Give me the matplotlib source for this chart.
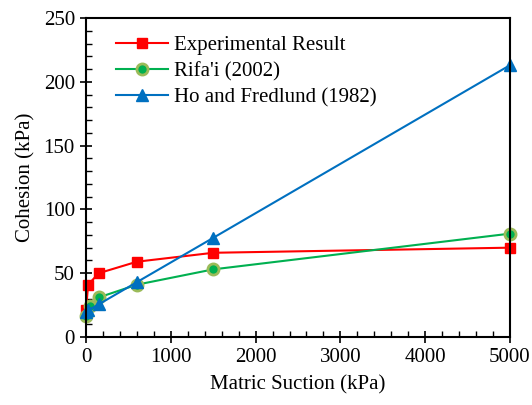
import matplotlib.pyplot as plt
from matplotlib.ticker import MultipleLocator

plt.rcParams['font.family'] = ['Liberation Serif', 'DejaVu Serif']

# data
exp_x = [0, 25, 150, 600, 1500, 5000]
exp_y = [21, 41, 50, 59, 66, 70]
rif_x = [0, 50, 150, 600, 1500, 5000]
rif_y = [16.5, 24, 31, 41, 53, 81]
ho_x = [0, 25, 150, 600, 1500, 5000]
ho_y = [19.8, 20.8, 25.6, 43, 77.7, 213]

fs = 15

fig = plt.figure(figsize=(5.32, 4.05), dpi=100)
ax = fig.add_axes([0.1617, 0.1679, 0.7969, 0.7877])

ax.plot(exp_x, exp_y, color='#FF0000', lw=1.5, marker='s', ms=7,
        mfc='#FF0000', mec='#FF0000', label='Experimental Result', clip_on=False)
ax.plot(rif_x, rif_y, color='#00B050', lw=1.5, marker='o', ms=8,
        mfc='#00B050', mec='#9BBB59', mew=2, label="Rifa'i (2002)", clip_on=False)
ax.plot(ho_x, ho_y, color='#0070C0', lw=1.5, marker='^', ms=8,
        mfc='#0070C0', mec='#0070C0', label='Ho and Fredlund (1982)', clip_on=False)

ax.set_xlim(0, 5000)
ax.set_ylim(0, 250)
ax.xaxis.set_major_locator(MultipleLocator(1000))
ax.xaxis.set_minor_locator(MultipleLocator(200))
ax.yaxis.set_major_locator(MultipleLocator(50))
ax.yaxis.set_minor_locator(MultipleLocator(10))
ax.tick_params(which='major', direction='inout', length=8, width=1.2,
               labelsize=fs, pad=4)
ax.tick_params(which='minor', direction='in', length=4, width=1)
for s in ax.spines.values():
    s.set_linewidth(1.5)

ax.set_xlabel('Matric Suction (kPa)', fontsize=fs, labelpad=6)
ax.set_ylabel('Cohesion (kPa)', fontsize=fs, labelpad=6)

ax.legend(loc='upper left', bbox_to_anchor=(0.0708, 0.944), frameon=False,
          fontsize=fs, borderaxespad=0, borderpad=0, handlelength=2.5,
          handletextpad=0.3, labelspacing=0.3)

fig.savefig('out.png', dpi=100)
